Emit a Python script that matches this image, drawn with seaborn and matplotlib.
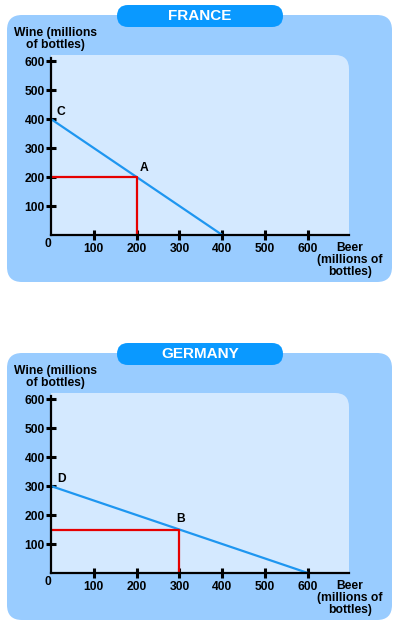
import numpy as np
import pandas as pd
import matplotlib
matplotlib.use("Agg")
import matplotlib.pyplot as plt
import seaborn as sns
from matplotlib.patches import FancyBboxPatch, Rectangle

# chart data
countries = ["FRANCE", "GERMANY"]
wine_max = [400, 300]          # wine when no beer is made
beer_max = [400, 600]          # beer when no wine is made
intercept_names = ["C", "D"]
point_names = ["A", "B"]
point_beer = [200, 300]
point_wine = [200, 150]
ticks = [100, 200, 300, 400, 500, 600]

OUTER = "#99ccff"
INNER = "#d4e9ff"
PILL = "#0a99ff"
BLUE = "#1e96f0"
RED = "#e60000"

sns.set_theme(style="white")
plt.rcParams['font.family'] = ['Liberation Sans', 'DejaVu Sans']
plt.rcParams['font.weight'] = 'bold'
plt.rcParams['text.color'] = 'black'
plt.rcParams['xtick.color'] = 'black'
plt.rcParams['ytick.color'] = 'black'

W, H = 400, 624
fig = plt.figure(figsize=(W / 100, H / 100), dpi=100)

# background layer in pixel coordinates
bg = fig.add_axes([0, 0, 1, 1])
bg.set_xlim(0, W)
bg.set_ylim(H, 0)
bg.axis('off')

label_offset = [(2.5, 2.5), (0.5, 3.5)]
label_ha = ['left', 'center']

for i, name in enumerate(countries):
    dy = i * 338

    # panel, title pill and plot area
    bg.add_patch(FancyBboxPatch((7, 15 + dy), 385, 267,
                                boxstyle="round,pad=0,rounding_size=15",
                                fc=OUTER, ec='none'))
    bg.add_patch(FancyBboxPatch((117, 5 + dy), 166, 22,
                                boxstyle="round,pad=0,rounding_size=11",
                                fc=PILL, ec='none'))
    bg.text(200, 16.5 + dy, name, color='white', fontsize=11,
            ha='center', va='center')
    bg.add_patch(FancyBboxPatch((51, 55 + dy), 298, 180,
                                boxstyle="round,pad=0,rounding_size=14",
                                fc=INNER, ec='none'))
    bg.add_patch(Rectangle((51, 55 + dy), 284, 180, fc=INNER, ec='none'))
    bg.add_patch(Rectangle((51, 69 + dy), 298, 166, fc=INNER, ec='none'))

    bg.text(55, 39 + dy, "Wine (millions\nof bottles)", fontsize=8.7,
            ha='center', va='center', linespacing=1.0)
    bg.text(350, 260 + dy, "Beer\n(millions of\nbottles)", fontsize=8.7,
            ha='center', va='center', linespacing=1.0)
    bg.text(48, 244 + dy, "0", fontsize=8.7, ha='center', va='center')

    # the plot
    ax = fig.add_axes([51 / W, 1 - (235 + dy) / H, 298 / W, 180 / H])
    ax.set_facecolor('none')

    ppf = pd.DataFrame({"beer": [0, beer_max[i]], "wine": [wine_max[i], 0]})
    sns.lineplot(data=ppf, x="beer", y="wine", color=BLUE, lw=1.6,
                 ax=ax, clip_on=False)
    pt = pd.DataFrame({"beer": [0, point_beer[i], point_beer[i]],
                       "wine": [point_wine[i], point_wine[i], 0]})
    sns.lineplot(data=pt, x="beer", y="wine", sort=False, estimator=None,
                 color=RED, lw=1.6, ax=ax)

    ax.set_xlim(0, 696)
    ax.set_ylim(0, 621)
    ax.set_xlabel("")
    ax.set_ylabel("")
    ax.set_xticks(ticks)
    ax.set_yticks(ticks)
    ax.tick_params(bottom=True, left=True, direction='inout', length=7,
                   width=2.2, labelsize=8.7, color='black')
    ax.tick_params(axis='x', pad=2.5)
    ax.tick_params(axis='y', pad=1)

    sns.despine(ax=ax)
    for side in ['left', 'bottom']:
        ax.spines[side].set_color('black')
        ax.spines[side].set_linewidth(1.6)
    ax.spines['left'].set_bounds(0, 612)

    ax.annotate(intercept_names[i], xy=(0, wine_max[i]), xytext=(4.3, 0.7),
                textcoords='offset points', ha='left', va='bottom',
                fontsize=8.7)
    ax.annotate(point_names[i], xy=(point_beer[i], point_wine[i]),
                xytext=label_offset[i], textcoords='offset points',
                ha=label_ha[i], va='bottom', fontsize=8.7)

fig.savefig("out.png", dpi=100)
